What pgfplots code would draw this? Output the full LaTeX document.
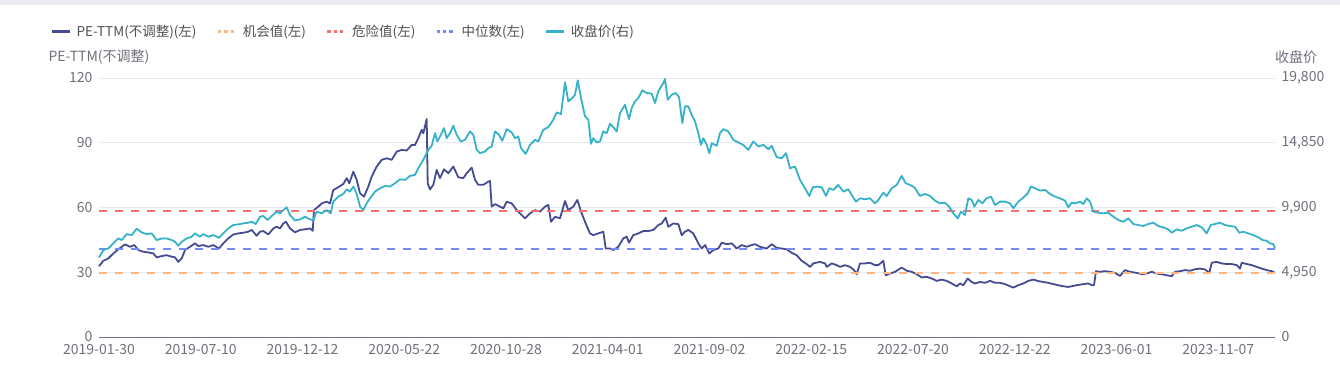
\documentclass[border=0pt]{standalone}
\usepackage{pgfplots}
\pgfplotsset{compat=1.18}
\usepackage{fontspec}
\setmainfont{Noto Sans CJK SC}
\definecolor{pecol}{RGB}{70,76,146}
\definecolor{pricecol}{RGB}{54,178,200}
\definecolor{dangercol}{RGB}{250,112,112}
\definecolor{mediancol}{RGB}{120,138,250}
\definecolor{oppcol}{RGB}{250,185,130}
\definecolor{gridc}{RGB}{230,232,242}
\definecolor{axisc}{RGB}{110,112,150}
\definecolor{tickc}{RGB}{110,112,121}
\definecolor{legc}{RGB}{80,80,80}
\definecolor{bandc}{RGB}{235,235,243}
\begin{document}
\begin{tikzpicture}[font=\fontsize{14pt}{16pt}\selectfont]
\useasboundingbox (0,0) rectangle (1340pt,376pt);
\fill[bandc] (0,370.5pt) rectangle (1340pt,376pt);
\pgfplotsset{
  common/.style={
    scale only axis, width=1176pt, height=259pt,
    at={(99pt,39pt)}, anchor=south west,
    xmin=0, xmax=1176,
    /pgf/number format/assume math mode=true,
    tick label style={color=tickc, font=\fontsize{14pt}{16pt}\selectfont},
    major tick length=0pt,
    clip=false,
  }
}
\begin{axis}[common,
  ymin=0, ymax=120, ytick={0,30,60,90,120},
  separate axis lines,
  axis x line*=bottom, axis y line*=left,
  x axis line style={-, draw=axisc, line width=1pt},
  y axis line style={draw=none},
  ymajorgrids, grid style={draw=gridc, line width=1pt},
  xtick={0,101.75,203.5,305.25,407,508.75,610.5,712.25,814,915.75,1017.5,1119.25},
  xticklabels={2019-01-30,2019-07-10,2019-12-12,2020-05-22,2020-10-28,2021-04-01,2021-09-02,2022-02-15,2022-07-20,2022-12-22,2023-06-01,2023-11-07},
  xticklabel style={yshift=-4pt},
  yticklabel style={xshift=-3pt},
  ylabel={PE-TTM(不调整)},
  ylabel style={rotate=-90, at={(axis description cs:0,1.081)}, anchor=center, color=tickc, font=\fontsize{14pt}{16pt}\selectfont},
]
\addplot[color=pecol, line width=1.8pt, line join=round] coordinates {
(0,32.8)(4.3,35.3)(9.3,36.4)(14.3,38.7)(19.3,40.6)(26,42.9)(31,41.8)(35.3,42.6)(39.3,40.3)(44.3,39.5)(49.3,39.2)(54.3,38.7)(57.7,36.9)(62.7,37.5)(67.7,37.9)(72.7,37.2)(76,36.9)(79.3,34.8)(82.7,36.4)(86,40.3)(91,41.8)(96,43.4)(99.3,42.1)(104.3,42.6)(109.3,41.8)(114.3,42.6)(120,41.0)(124.3,43.4)(129.3,45.7)(134.3,47.5)(139.3,48.0)(144.3,48.3)(149.3,48.8)(152.7,49.6)(157.7,46.9)(161,48.8)(164.3,49.1)(169.3,47.5)(174.3,50.3)(177.7,51.1)(181,50.3)(184.3,52.6)(187,53.4)(191,50.3)(196,48.5)(201,49.6)(206,49.9)(211,50.3)(213.7,49.2)(215,58.8)(219.3,60.4)(222.7,61.9)(227.7,62.7)(231,61.9)(234.3,68.1)(239.3,69.4)(244.3,70.9)(247.7,73.6)(250.3,71.2)(254.3,76.6)(257.7,72.8)(261,66.6)(265,65.0)(269.3,69.7)(272.7,74.3)(277.7,79.0)(282.7,82.1)(287.7,82.8)(292.7,82.1)(297.7,85.9)(302.7,86.7)(307.7,86.4)(312.7,89.0)(316,89.0)(319.3,92.1)(322.7,96.0)(324.3,94.4)(327.7,101.0)(328.7,71.2)(331,68.4)(334.3,70.5)(337.7,77.4)(341,73.6)(345,77.7)(349.3,75.9)(354.3,79.0)(359.3,74.0)(364.3,73.6)(367.7,75.9)(372.7,78.5)(376,72.8)(379.3,70.5)(384.3,70.5)(389.3,72.0)(391,72.3)(392.7,60.4)(396,61.6)(401,60.4)(404.3,59.6)(407.7,62.7)(412.7,61.9)(417.7,58.8)(421,57.3)(426,55.0)(431,57.3)(436,58.8)(441,58.1)(446,60.4)(449.3,61.2)(452,53.4)(456,55.7)(461,55.0)(466,63.0)(469.3,58.8)(474.3,60.4)(478.3,63.5)(482.7,57.3)(486,53.4)(491,48.0)(494.3,47.2)(499.3,48.0)(504.3,48.8)(506.7,41.0)(511,41.0)(514.3,40.3)(519.3,41.8)(524.3,45.7)(527.7,46.5)(530,43.7)(534.3,47.2)(539.3,48.0)(544.3,49.1)(549.3,49.1)(554.3,49.6)(559.3,51.9)(562.7,52.6)(566.7,55.3)(569.3,51.1)(574.3,52.6)(579.3,52.3)(582.7,47.2)(586,48.8)(589.3,49.6)(594.3,48.0)(599.3,43.4)(602.7,41.0)(606,42.6)(610.3,38.7)(614.3,40.3)(619.3,41.0)(622.7,43.7)(627.7,43.0)(632.7,43.4)(637.7,41.0)(642.7,42.6)(647.7,41.8)(652.7,42.6)(656,43.0)(661,41.8)(667.7,41.0)(672.7,43.0)(677.7,41.3)(682.7,41.0)(687.7,40.6)(692.7,39.0)(697.7,37.9)(702.7,35.3)(707.7,33.8)(711,32.5)(714.3,34.1)(721,34.8)(726,34.1)(727.7,32.5)(732.7,34.1)(737.7,33.3)(741,32.5)(746,33.3)(751,32.5)(755,31.0)(757.7,29.1)(761,34.1)(766,34.1)(771,34.4)(776,33.3)(779.3,33.3)(784.3,35.3)(786.7,28.6)(791,29.4)(796,30.2)(802.7,32.2)(807.7,30.7)(812.7,30.2)(817.7,29.1)(822.7,27.6)(827.7,27.9)(832.7,27.1)(837.7,26.0)(842.7,26.6)(847.7,26.0)(852.7,24.8)(857.7,23.5)(861,24.8)(864.3,24.0)(868.7,27.1)(872.7,25.5)(876,24.8)(881,25.5)(886,25.1)(891,26.0)(896,25.1)(901,25.1)(906,24.5)(911,23.5)(914.3,22.9)(919.3,24.0)(924.3,24.8)(929.3,26.0)(934.3,26.6)(939.3,25.9)(944.3,25.5)(949.3,25.1)(954.3,24.5)(959.3,24.0)(964.3,23.5)(969.3,23.2)(977.7,24.0)(984.3,24.5)(989.3,24.8)(992.7,24.0)(995,24.0)(997,30.5)(1001,30.2)(1006,30.5)(1011,30.2)(1016,29.7)(1021,28.3)(1026,31.0)(1031,30.2)(1037.7,29.7)(1042.7,29.1)(1047.7,29.4)(1052.7,30.2)(1057.7,29.4)(1062.7,29.1)(1067.7,28.6)(1072.7,28.2)(1076,30.2)(1081,30.5)(1086,31.0)(1091,30.7)(1096,31.4)(1101,31.7)(1106,31.3)(1110.3,29.7)(1112.7,34.4)(1117.7,34.8)(1122.7,34.1)(1127.7,33.8)(1132.7,33.8)(1137.7,33.3)(1141,31.7)(1142.7,34.4)(1147.7,33.8)(1152.7,33.3)(1157.7,32.5)(1162.7,31.7)(1167.7,31.0)(1172.7,30.5)(1176,29.7)
};
\addplot[color=oppcol, line width=2pt, dash pattern=on 8pt off 8pt] coordinates {(0,29.65)(1176,29.65)};
\addplot[color=dangercol, line width=2pt, dash pattern=on 8pt off 8pt] coordinates {(0,58.38)(1176,58.38)};
\addplot[color=mediancol, line width=2pt, dash pattern=on 8pt off 8pt] coordinates {(0,40.77)(1176,40.77)};
\end{axis}
\begin{axis}[common,
  ymin=0, ymax=19800, ytick={0,4950,9900,14850,19800},
  scaled y ticks=false,
  axis x line=none, axis y line*=right,
  y axis line style={draw=none},
  yticklabel style={xshift=3pt, /pgf/number format/1000 sep={,}},
  ylabel={收盘价},
  ylabel style={rotate=-90, at={(axis description cs:1.018,1.081)}, anchor=center, color=tickc, font=\fontsize{14pt}{16pt}\selectfont},
  legend columns=-1,
  legend style={at={(axis description cs:-0.0411,1.1788)}, anchor=west, draw=none, fill=none, inner sep=0pt, outer sep=0pt,
    nodes={inner sep=0pt, text=legc, font=\fontsize{13.5pt}{16pt}\selectfont},
    /tikz/every odd column/.append style={column sep=5.7pt},
    /tikz/every even column/.append style={column sep=20pt}},
]
\addlegendimage{legend image code/.code={\draw[color=pecol, line width=2.7pt] (0pt,0pt) -- (17.6pt,0pt);}}
\addlegendimage{legend image code/.code={\draw[color=oppcol, line width=3pt, dash pattern=on 3.3pt off 3pt] (0pt,0pt) -- (17.6pt,0pt);}}
\addlegendimage{legend image code/.code={\draw[color=dangercol, line width=3pt, dash pattern=on 3.3pt off 3pt] (0pt,0pt) -- (17.6pt,0pt);}}
\addlegendimage{legend image code/.code={\draw[color=mediancol, line width=3pt, dash pattern=on 3.3pt off 3pt] (0pt,0pt) -- (17.6pt,0pt);}}
\addplot[color=pricecol, line width=1.8pt, line join=round, legend image code/.code={\draw[color=pricecol, line width=2.7pt] (0pt,0pt) -- (17.6pt,0pt);}] coordinates {
(0,6081)(4.3,6643)(9.3,6771)(14.3,7154)(19.3,7537)(22.7,7410)(27.7,7869)(32.7,7793)(37.7,8278)(42.7,7997)(47.7,7869)(52.7,7921)(57.7,7410)(62.7,7537)(67.7,7537)(72.7,7410)(76,7282)(79.3,6975)(82.7,7282)(87.7,7537)(92.7,7665)(96,7921)(101,7665)(104.3,7869)(109.3,7665)(114.3,7793)(120,7588)(124.3,7921)(129.3,8304)(134.3,8559)(139.3,8610)(144.3,8687)(149.3,8738)(152.7,8815)(156.7,8636)(161,9198)(164.3,9249)(168.7,8943)(172.7,9249)(177.7,9581)(181,9454)(184.3,9709)(187.7,9913)(191,9326)(196,8900)(201,8994)(206,9198)(211,8994)(214.3,8943)(217.7,9581)(222.7,9454)(227.7,9709)(231.7,9454)(234.3,10348)(239.3,10731)(244.3,10935)(247.7,11293)(251,11114)(254.3,11498)(257.7,10935)(261,9965)(264.3,9709)(267.7,10220)(271,10603)(276,11114)(281,11370)(286,11549)(291,11498)(296,11753)(301,12060)(306,12009)(311,12315)(316,12392)(319.3,12903)(324.3,13542)(329.3,14308)(332.7,14615)(336,15586)(338.3,14947)(341,15330)(345,15969)(347.7,15202)(351,15586)(354.3,16148)(357.7,15458)(361.7,14947)(366,15075)(371,15713)(374.3,15458)(377.7,14308)(381,14053)(386,14180)(389.3,14436)(392.7,14564)(396,15713)(400,15458)(403.3,14998)(407.7,15892)(412.7,15637)(416,15202)(419.3,15330)(422,14436)(426.7,14001)(431,14691)(436,15075)(439.3,14947)(444.3,15841)(449.3,16045)(454.3,16608)(457.7,17170)(462,17042)(466,19469)(469.3,18013)(473.3,18268)(476,18524)(478.7,19622)(482.7,18013)(486,16863)(489.3,16608)(492,14768)(494.3,15202)(497.7,14870)(501,14947)(504.3,15713)(507.7,15586)(511,16301)(514.3,16045)(517.7,15713)(521,17119)(526,17757)(530,16659)(532.7,17502)(536,18013)(539.3,18268)(543.3,18856)(547.7,18652)(552.7,18600)(556,17885)(559.3,18779)(564.3,19418)(566,19725)(568.7,18141)(572.7,18524)(576.7,18652)(580,18345)(583.3,16352)(586,17630)(589.3,17630)(592.7,16991)(596,16480)(599.3,15586)(602,14691)(604.3,15202)(607.7,14691)(610.3,14053)(612.7,14819)(617.7,14615)(621,15586)(624.3,15892)(629.3,15713)(634.3,15075)(639.3,14870)(644.3,14691)(649.3,14308)(654.3,14947)(659.3,14564)(664.3,14691)(669.3,14359)(672.7,14615)(677.7,13746)(682.7,13669)(687,14053)(691,12903)(696,13031)(701,12009)(706,11370)(710.3,10782)(713.7,11446)(718.3,11498)(722.7,11446)(727,10782)(730.3,11370)(734.3,11242)(739.3,11625)(744.3,11114)(749.3,11293)(752.7,10859)(757,10348)(761,10603)(766,10527)(771,10603)(776,10220)(779.3,10476)(784.3,11038)(787.7,10782)(792.7,11370)(797.7,11625)(802.7,12315)(806.7,11753)(811,11625)(815.3,11446)(821,10782)(826,10935)(831,10782)(836,10424)(841,10220)(846,10271)(850,9965)(854.3,9454)(858.7,9070)(862,9581)(866,9326)(869.3,10603)(872.7,10476)(875.3,9965)(879.3,10476)(883.3,10220)(887.7,10603)(892,10731)(896,10092)(901,10348)(906,10348)(911,10220)(914.3,9837)(919.3,10348)(924.3,10654)(928.7,10987)(932,11498)(936,11370)(941,11191)(946,11242)(951,10935)(956,10731)(961,10603)(966,10424)(969.3,9913)(972.7,10271)(976,10220)(981,10348)(984.3,10169)(987.7,10603)(991,10348)(994.3,9581)(999.3,9505)(1004.3,9454)(1009.3,9505)(1014.3,9198)(1019.3,8943)(1024.3,8815)(1029.3,9070)(1034.3,8636)(1039.3,8559)(1044.3,8483)(1049.3,8636)(1054.3,8738)(1059.3,8483)(1064.3,8380)(1069.3,8227)(1072.7,7972)(1077.7,8227)(1082.7,8125)(1087.7,8304)(1092.7,8432)(1097.7,8559)(1102.7,8380)(1107.7,7921)(1111.7,8559)(1116,8636)(1121,8738)(1126,8559)(1131,8483)(1136,8432)(1140.3,7972)(1144.3,8048)(1149.3,7921)(1154.3,7793)(1159.3,7614)(1163.7,7410)(1167.7,7358)(1171,7154)(1174.3,7103)(1176,6771)
};
\legend{PE-TTM(不调整)(左),机会值(左),危险值(左),中位数(左),收盘价(右)}
\end{axis}
\end{tikzpicture}
\end{document}
